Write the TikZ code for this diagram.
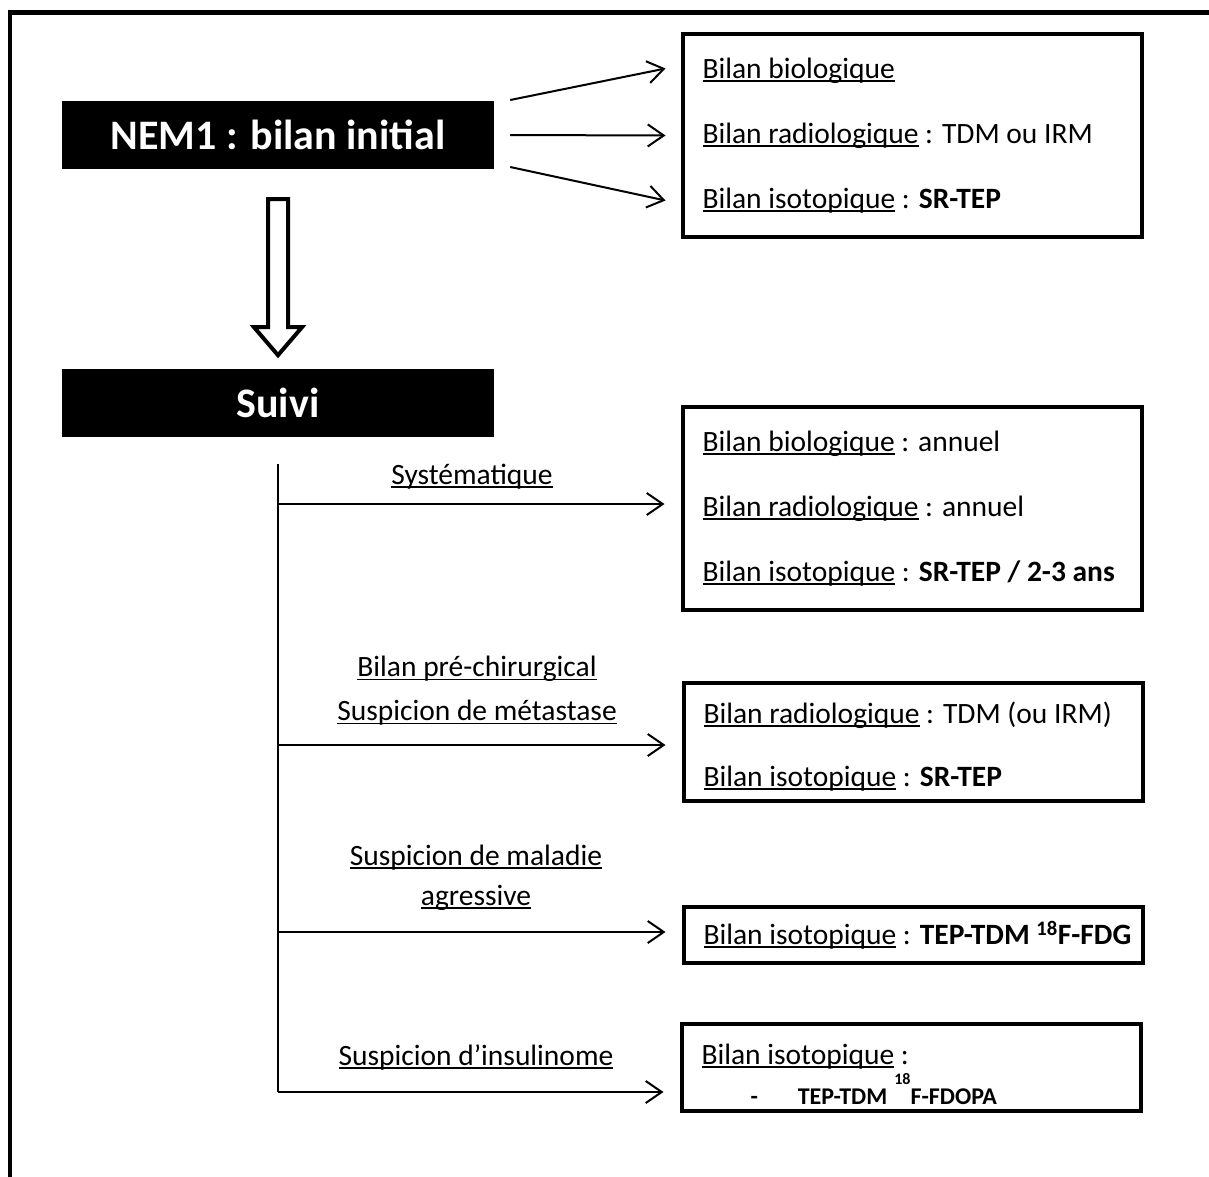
\documentclass[tikz,border=0pt]{standalone}
\usepackage{fontspec}
\setmainfont{Carlito}
\usepackage{tikz}
\usetikzlibrary{arrows.meta,calc,positioning}

\newcommand{\souligne}[1]{\leavevmode\setbox0\hbox{#1}\rlap{\rule[-0.12em]{\wd0}{0.065em}}\box0\relax}

\tikzset{
  titre/.style={fill=black, text=white, font=\fontsize{42}{48}\selectfont\bfseries, minimum width=432pt, minimum height=68pt, inner sep=0pt},
  cadre/.style={draw, line width=4pt, minimum width=459pt, text width=419pt, inner xsep=20pt, inner ysep=0pt, align=flush left, font=\fontsize{29.5}{65}\selectfont},
  etiquette/.style={align=flush center, inner sep=0pt, font=\fontsize{29.5}{44}\selectfont},
  fleche/.style={line width=2pt, -{Straight Barb[length=16pt,width=22pt,line width=2pt]}}
}

\begin{document}
\begin{tikzpicture}[x=1pt,y=-1pt]
\useasboundingbox (0,0) rectangle (1209,1176);
\clip (0,0) rectangle (1209,1176);
\draw[line width=4.5pt] (10,1190) -- (10,12.5) -- (1220,12.5);

\node[titre] (nem) at (278,135) {NEM1 : bilan initial};
\node[titre] (suivi) at (278,403) {Suivi};

\node[cadre, minimum height=203pt] (bilan) at (912,135.5) {\souligne{Bilan biologique}\\\souligne{Bilan radiologique} : TDM ou IRM\\\souligne{Bilan isotopique} : \textbf{SR-TEP}};
\node[cadre, minimum height=203pt] (sys) at (912,508.5) {\souligne{Bilan biologique} : annuel\\\souligne{Bilan radiologique} : annuel\\\souligne{Bilan isotopique} : \textbf{SR-TEP / 2-3 ans}};
\node[cadre, minimum height=118pt, font=\fontsize{29.5}{63}\selectfont] (chir) at (913,742) {\rule{0pt}{30pt}\souligne{Bilan radiologique} : TDM (ou IRM)\\\souligne{Bilan isotopique} : \textbf{SR-TEP}};
\node[cadre, minimum height=56pt] (agr) at (913,935) {\mbox{\souligne{Bilan isotopique} : \textbf{TEP-TDM \textsuperscript{18}F-FDG}}};
\node[cadre, minimum height=87pt, font=\fontsize{29.5}{40}\selectfont] (ins) at (911,1067.5) {\rule{0pt}{34pt}\souligne{Bilan isotopique} :\\\hspace*{49pt}{\fontsize{24}{24}\selectfont\bfseries -\hspace{40pt}TEP-TDM\hspace{7pt}\raisebox{20pt}{\fontsize{16}{16}\selectfont 18}F-FDOPA}};

\node[etiquette] (lsys) at (472,477) {\souligne{Systématique}};
\node[etiquette] (lchir) at (477,691) {\souligne{Bilan pré-chirurgical}\\\souligne{Suspicion de métastase}};
\node[etiquette, font=\fontsize{29.5}{40}\selectfont] (lagr) at (476,878) {\souligne{Suspicion de maladie}\\\souligne{agressive}};
\node[etiquette] (lins) at (476,1057) {\souligne{Suspicion d’insulinome}};

\draw[fleche] ($(nem.east)+(16,-35)$) -- ($(bilan.west)+(-15,-67)$);
\draw[fleche] ($(nem.east)+(16,0)$) -- ($(bilan.west)+(-15,0)$);
\draw[fleche] ($(nem.east)+(16,32)$) -- ($(bilan.west)+(-15,65)$);

\draw[line width=4pt] ($(nem.south)+(-10,30)$) -- ++(20,0) -- ++(0,128) -- ++(14,0) -- ++(-24,28) -- ++(-24,-28) -- ++(14,0) -- cycle;

\coordinate (tronc) at ($(suivi.south)+(0,27)$);
\coordinate (b1) at (278,504);
\coordinate (b2) at (278,745);
\coordinate (b3) at (278,932);
\coordinate (b4) at (278,1092);
\draw[line width=2pt] (tronc) -- (b4);
\draw[fleche, shorten >=16pt] (b1) -- (b1 -| sys.west);
\draw[fleche, shorten >=16pt] (b2) -- (b2 -| chir.west);
\draw[fleche, shorten >=16pt] (b3) -- (b3 -| agr.west);
\draw[fleche, shorten >=16pt] (b4) -- (b4 -| ins.west);
\end{tikzpicture}
\end{document}
